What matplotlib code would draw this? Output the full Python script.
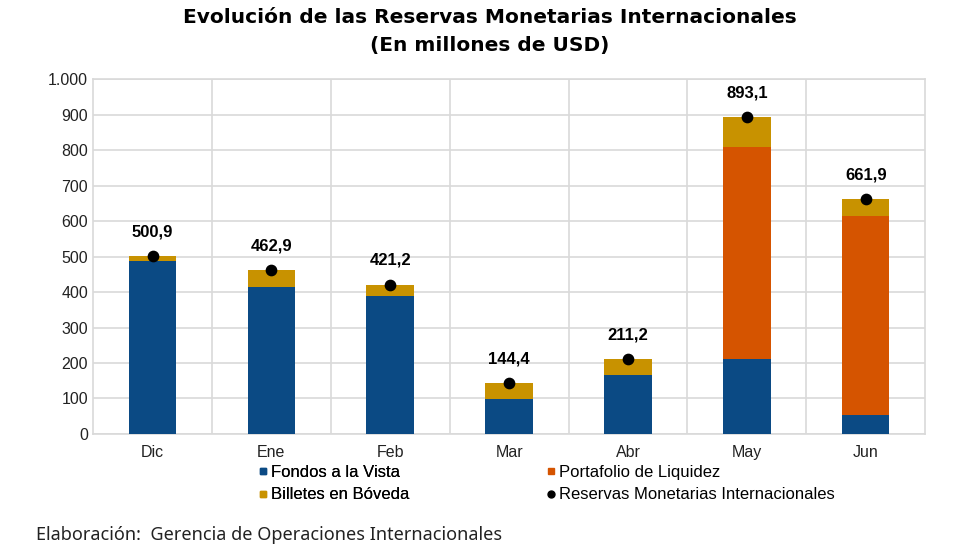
import matplotlib.pyplot as plt
import numpy as np
from matplotlib.lines import Line2D
from matplotlib.ticker import FuncFormatter

# data (millions of USD)
months = ['Dic', 'Ene', 'Feb', 'Mar', 'Abr', 'May', 'Jun']
fondos = [488, 415, 389, 98, 166, 210, 53]
portafolio = [0, 0, 0, 0, 0, 599, 561]
totals = [500.9, 462.9, 421.2, 144.4, 211.2, 893.1, 661.9]
billetes = [t - f - p for t, f, p in zip(totals, fondos, portafolio)]

c_blue = '#0B4A84'
c_orange = '#D55400'
c_gold = '#C89200'

fig = plt.figure(figsize=(9.8, 5.5), dpi=100)
ax = fig.add_axes([0.095, 0.211, 0.849, 0.645])

x = np.arange(len(months))
ax.bar(x, fondos, width=0.4, color=c_blue, zorder=3)
ax.bar(x, portafolio, width=0.4, bottom=fondos, color=c_orange, zorder=3)
bottom2 = [f + p for f, p in zip(fondos, portafolio)]
ax.bar(x, billetes, width=0.4, bottom=bottom2, color=c_gold, zorder=3)
ax.scatter(x, totals, s=55, color='black', zorder=4)

for xi, t in zip(x, totals):
    ax.annotate(f"{t:.1f}".replace('.', ','), (xi, t), xytext=(0, 12),
                textcoords='offset points', ha='center', va='bottom',
                fontsize=12, fontweight='bold', family='Liberation Sans')

ax.set_xlim(-0.5, len(months) - 0.5)
ax.set_ylim(0, 1000)
ax.set_yticks(range(0, 1001, 100))
ax.yaxis.set_major_formatter(FuncFormatter(lambda v, _: f"{int(v):,}".replace(',', '.')))
ax.set_xticks(x)
ax.set_xticklabels(months)
ax.set_xticks(np.arange(0.5, len(months) - 0.5, 1), minor=True)
ax.grid(axis='y', color='#d9d9d9', linewidth=1.2, zorder=0)
ax.grid(axis='x', which='minor', color='#d9d9d9', linewidth=1.2, zorder=0)
ax.tick_params(which='both', length=0)
ax.tick_params(axis='both', labelsize=11.5, colors='#222222')
for lab in ax.get_xticklabels() + ax.get_yticklabels():
    lab.set_family('Liberation Sans')
ax.tick_params(axis='x', pad=8)
for s in ax.spines.values():
    s.set_color('#d9d9d9')
    s.set_linewidth(1.2)

fig.text(0.5, 0.968, 'Evolución de las Reservas Monetarias Internacionales',
         ha='center', va='center', fontsize=14.5, fontweight='bold', family='DejaVu Sans')
fig.text(0.5, 0.917, '(En millones de USD)',
         ha='center', va='center', fontsize=14.5, fontweight='bold', family='DejaVu Sans')

h_fondos = Line2D([], [], marker='s', linestyle='none', color=c_blue, markersize=5)
h_billetes = Line2D([], [], marker='s', linestyle='none', color=c_gold, markersize=5)
h_port = Line2D([], [], marker='s', linestyle='none', color=c_orange, markersize=5)
h_rmi = Line2D([], [], marker='o', linestyle='none', color='black', markersize=5)
leg_kw = dict(loc='upper left', frameon=False, handletextpad=0.0, handlelength=1.0,
              labelspacing=0.45, borderpad=0, prop={'family': 'Liberation Sans', 'size': 12})
leg1 = fig.legend([h_fondos, h_billetes], ['Fondos a la Vista', 'Billetes en Bóveda'],
                  bbox_to_anchor=(0.251, 0.17), **leg_kw)
fig.add_artist(leg1)
fig.legend([h_port, h_rmi], ['Portafolio de Liquidez', 'Reservas Monetarias Internacionales'],
           bbox_to_anchor=(0.545, 0.17), **leg_kw)

fig.text(0.037, 0.028, 'Elaboración:  Gerencia de Operaciones Internacionales',
         ha='left', va='center', fontsize=13, family='Noto Sans', color='#222222')

fig.savefig('out.png', dpi=100)
